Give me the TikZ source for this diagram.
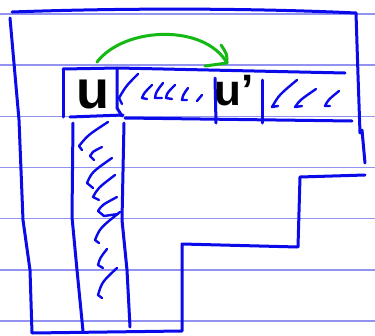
\documentclass[tikz,border=0pt]{standalone}
\usepackage{fontspec}
\newfontfamily\handfont{Liberation Sans}
\definecolor{rule}{RGB}{146,146,240}
\definecolor{ink}{RGB}{10,10,235}
\definecolor{pen}{RGB}{20,185,20}
\begin{document}
\begin{tikzpicture}[x=1pt,y=-1pt,
  ruled/.style={draw=rule,line width=1.6pt},
  inkline/.style={draw=ink,line width=3pt,line cap=round,line join=round},
  hatch/.style={draw=ink,line width=2.4pt,line cap=round,line join=round},
  greenpen/.style={draw=pen,line width=3pt,line cap=round,line join=round},
  letter/.style={inner sep=0pt,text=black,font=\handfont\bfseries}]
\useasboundingbox (0,0) rectangle (375,335);
\fill[white] (0,0) rectangle (375,335);
% ruled paper lines
\foreach \yy in {14,65,116.5,167.5,218.5,270,321}
  \draw[ruled] (0,\yy) -- (375,\yy);
% outer outline
\draw[inkline] (12,12) .. controls (120,8) and (250,8) .. (356,13);
\draw[inkline] (356,13) -- (358,75) -- (360,133);
\draw[inkline] (362,130) -- (365,163);
\draw[inkline] (365,175) -- (300,177) -- (298,247) -- (182,244) -- (182,331)
  -- (32,333) -- (30,270) -- (23,220) -- (19,120) -- (10,18);
% horizontal strip
\draw[inkline] (63,70) -- (63,117);
\draw[inkline] (63,69) -- (118,68) -- (345,73);
\draw[inkline] (117,68) -- (117,108) -- (122,116);
\draw[inkline] (70,117) -- (123,115);
\draw[inkline] (125,118) -- (352,121);
\draw[inkline] (215,78) -- (216,123);
\draw[inkline] (262,80) -- (262,123);
% vertical strip
\draw[inkline] (73,123) -- (72,217) -- (77,270) -- (83,331);
\draw[inkline] (124,123) -- (122,220) -- (127,270) -- (130,327);
% hatches in horizontal strip
\draw[hatch] (138,74) .. controls (126,86) .. (119,98) -- (122,104);
\draw[hatch] (152,85) .. controls (144,93) .. (142,98) -- (147,99);
\draw[hatch] (163,83) .. controls (156,92) .. (155,98) -- (162,98);
\draw[hatch] (175,85) .. controls (167,93) .. (166,98) -- (172,99);
\draw[hatch] (188,88) .. controls (183,95) .. (182,100) -- (187,100);
\draw[hatch] (202,95) -- (197,101);
\draw[hatch] (297,80) .. controls (279,95) .. (272,107) -- (278,106);
\draw[hatch] (316,89) .. controls (300,100) .. (295,107) -- (302,106);
\draw[hatch] (339,91) .. controls (328,100) .. (325,106) -- (330,106);
% hatches in vertical strip
\draw[hatch] (108,122) .. controls (88,135) .. (79,146) -- (82,150);
\draw[hatch] (102,147) .. controls (92,152) .. (90,156) -- (94,160);
\draw[hatch] (112,158) .. controls (92,172) .. (87,183) -- (93,188);
\draw[hatch] (115,175) .. controls (98,188) .. (93,197) -- (99,200);
\draw[hatch] (117,197) .. controls (102,205) .. (98,211) -- (104,216) -- (118,214);
\draw[hatch] (120,212) .. controls (100,228) .. (95,240) -- (99,243);
\draw[hatch] (107,249) .. controls (100,258) .. (98,265) -- (103,268);
\draw[hatch] (117,268) .. controls (102,282) .. (98,295) -- (102,298);
% letters
\node[letter,font=\handfont\bfseries\fontsize{54}{54}\selectfont,anchor=base west] (u) at (76,108) {u};
\node[letter,font=\handfont\bfseries\fontsize{44}{44}\selectfont,anchor=base west] (up) at (214,105) {u’};
% green arrow
\coordinate (gstart) at (97,62);
\coordinate (gtip) at (227,63);
\draw[greenpen] (gstart) .. controls (125,26) and (205,24) .. (gtip);
\draw[greenpen] (205,66) -- (gtip) .. controls (227,54) .. (221,45);
\end{tikzpicture}
\end{document}
